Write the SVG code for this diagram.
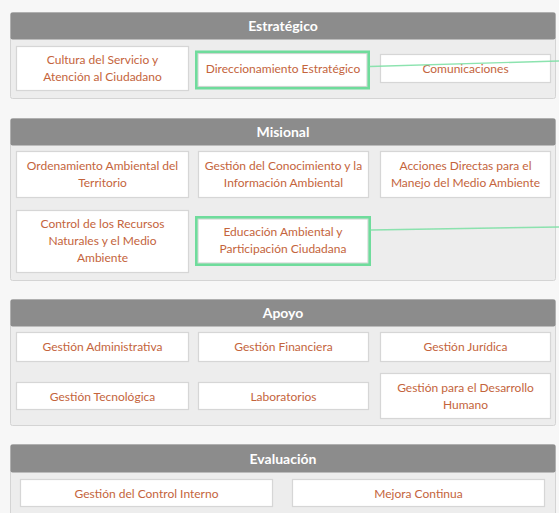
<svg xmlns="http://www.w3.org/2000/svg" width="559" height="513" viewBox="0 0 559 513">
<style>
.panel{fill:#ededed;stroke:#d4d4d4;stroke-width:1}
.hdr{fill:#8c8c8c}
.ht{font-family:Lato,"Liberation Sans",sans-serif;font-size:14px;font-weight:bold;fill:#ffffff;text-anchor:middle}
.box{fill:#ffffff;stroke:#d6d6d6;stroke-width:1.2}
.hl{fill:none;stroke:#6fdc9c;stroke-width:2.6}
.t{font-family:Lato,"Liberation Sans",sans-serif;font-size:12px;fill:#c4643c;text-anchor:middle}
.conn{stroke:#7fe0a6;stroke-width:1.4;fill:none;opacity:0.9}
</style>
<rect width="559" height="513" fill="#f7f7f7"/>

<g id="panel-estrategico">
<rect class="panel" x="10.5" y="12.5" width="545" height="86" rx="2"/>
<rect class="hdr" x="10.5" y="12.5" width="545" height="27" rx="2"/>
<text class="ht" x="283" y="31">Estratégico</text>
</g>
<g id="panel-misional">
<rect class="panel" x="10.5" y="118.5" width="545" height="162" rx="2"/>
<rect class="hdr" x="10.5" y="118.5" width="545" height="27" rx="2"/>
<text class="ht" x="283" y="137">Misional</text>
</g>
<g id="panel-apoyo">
<rect class="panel" x="10.5" y="299.5" width="545" height="126" rx="2"/>
<rect class="hdr" x="10.5" y="299.5" width="545" height="27" rx="2"/>
<text class="ht" x="283" y="318">Apoyo</text>
</g>
<g id="panel-evaluacion">
<rect class="panel" x="10.5" y="444.5" width="545" height="80" rx="2"/>
<rect class="hdr" x="10.5" y="444.5" width="545" height="28" rx="2"/>
<text class="ht" x="283" y="464">Evaluación</text>
</g>

<g id="n-cultura">
<rect class="box" x="16.5" y="46.5" width="172" height="44"/>
<text class="t" x="102.5" y="64">Cultura del Servicio y</text>
<text class="t" x="102.5" y="81">Atención al Ciudadano</text>
</g>
<g id="n-direccionamiento">
<rect class="box" x="198" y="53.5" width="169" height="33"/>
<rect class="hl" x="196.3" y="51.8" width="172.4" height="36.4"/>
<text class="t" x="283" y="72.5">Direccionamiento Estratégico</text>
</g>
<g id="n-comunicaciones">
<rect class="box" x="380.5" y="54.5" width="170" height="28"/>
<text class="t" x="465.5" y="73">Comunicaciones</text>
</g>

<g id="n-ordenamiento">
<rect class="box" x="16.5" y="151.5" width="172" height="46"/>
<text class="t" x="102.5" y="169.5">Ordenamiento Ambiental del</text>
<text class="t" x="102.5" y="186.5">Territorio</text>
</g>
<g id="n-conocimiento">
<rect class="box" x="198.5" y="151.5" width="170" height="46"/>
<text class="t" x="283.5" y="169.5">Gestión del Conocimiento y la</text>
<text class="t" x="283.5" y="186.5">Información Ambiental</text>
</g>
<g id="n-acciones">
<rect class="box" x="380.5" y="151.5" width="170" height="46"/>
<text class="t" x="465.5" y="169.5">Acciones Directas para el</text>
<text class="t" x="465.5" y="186.5">Manejo del Medio Ambiente</text>
</g>
<g id="n-control-recursos">
<rect class="box" x="16.5" y="210.5" width="172" height="62"/>
<text class="t" x="102.5" y="227.5">Control de los Recursos</text>
<text class="t" x="102.5" y="244.5">Naturales y el Medio</text>
<text class="t" x="102.5" y="261.5">Ambiente</text>
</g>
<g id="n-educacion">
<rect class="box" x="198" y="219" width="170" height="44"/>
<rect class="hl" x="196.3" y="217.3" width="173.4" height="47.4"/>
<text class="t" x="283" y="236">Educación Ambiental y</text>
<text class="t" x="283" y="253">Participación Ciudadana</text>
</g>

<g id="n-administrativa">
<rect class="box" x="16.5" y="332.5" width="172" height="29"/>
<text class="t" x="102.5" y="351">Gestión Administrativa</text>
</g>
<g id="n-financiera">
<rect class="box" x="198.5" y="332.5" width="170" height="29"/>
<text class="t" x="283.5" y="351">Gestión Financiera</text>
</g>
<g id="n-juridica">
<rect class="box" x="380.5" y="332.5" width="170" height="29"/>
<text class="t" x="465.5" y="351">Gestión Jurídica</text>
</g>
<g id="n-tecnologica">
<rect class="box" x="16.5" y="382.5" width="172" height="27"/>
<text class="t" x="102.5" y="400.5">Gestión Tecnológica</text>
</g>
<g id="n-laboratorios">
<rect class="box" x="198.5" y="382.5" width="170" height="27"/>
<text class="t" x="283.5" y="400.5">Laboratorios</text>
</g>
<g id="n-desarrollo">
<rect class="box" x="380.5" y="373.5" width="170" height="45"/>
<text class="t" x="465.5" y="391.5">Gestión para el Desarrollo</text>
<text class="t" x="465.5" y="408.5">Humano</text>
</g>

<g id="n-control-interno">
<rect class="box" x="20.5" y="479.5" width="252" height="27"/>
<text class="t" x="146.5" y="497.5">Gestión del Control Interno</text>
</g>
<g id="n-mejora">
<rect class="box" x="292.5" y="479.5" width="252" height="27"/>
<text class="t" x="418.5" y="497.5">Mejora Continua</text>
</g>

<g id="connectors">
<line class="conn" x1="369.5" y1="66.5" x2="559" y2="61"/>
<line class="conn" x1="370.5" y1="230" x2="559" y2="227"/>
</g>
</svg>
